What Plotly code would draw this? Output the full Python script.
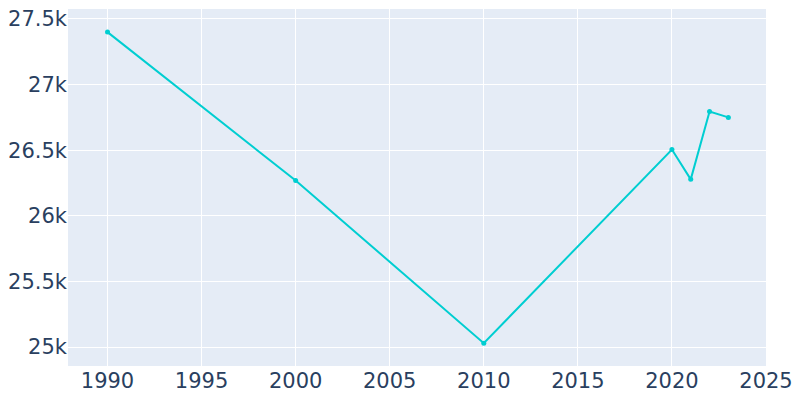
import plotly.graph_objects as go

years = [1990, 2000, 2010, 2020, 2021, 2022, 2023]
population = [27400, 26269, 25030, 26505, 26278, 26795, 26750]

fig = go.Figure()
fig.add_trace(go.Scatter(
    x=years, y=population,
    mode="lines+markers",
    line=dict(color="#00CED1", width=2),
    marker=dict(size=5, color="#00CED1"),
))

fig.update_layout(
    width=800, height=400,
    template="plotly",
    showlegend=False,
    margin=dict(l=68, r=31, t=7, b=34),
    font=dict(family="DejaVu Sans, sans-serif", size=21, color="#2a3f5f"),
    xaxis=dict(range=[1987.9, 2025], tickvals=[1990, 1995, 2000, 2005, 2010, 2015, 2020, 2025]),
    yaxis=dict(range=[24856, 27576], tickvals=[25000, 25500, 26000, 26500, 27000, 27500],
               ticktext=["25k", "25.5k", "26k", "26.5k", "27k", "27.5k"]),
)

# drop the default page margin so the figure sits at the window corner
fig.write_html("out.html", config={"displayModeBar": False},
               post_script="document.body.style.margin='0';")
